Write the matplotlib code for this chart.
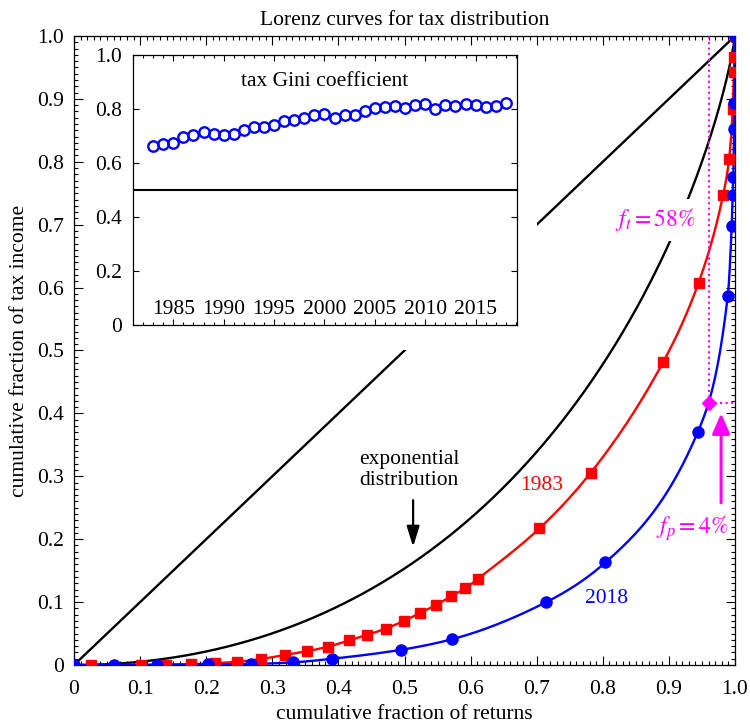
import numpy as np
import matplotlib
matplotlib.use('Agg')
import matplotlib.pyplot as plt
from matplotlib.patches import Rectangle
from matplotlib.ticker import MultipleLocator, FuncFormatter

plt.rcParams['font.family'] = ['Liberation Serif', 'DejaVu Serif']
plt.rcParams['mathtext.fontset'] = 'stix'
plt.rcParams['font.size'] = 15.5

FS = 15.5

# ---------------- data ----------------
returns_1983 = [0.025, 0.101, 0.139, 0.177, 0.213, 0.247, 0.283, 0.319, 0.353, 0.384,
                0.416, 0.444, 0.472, 0.499, 0.524, 0.547, 0.570, 0.592, 0.611, 0.704,
                0.782, 0.891, 0.945, 0.982, 0.991, 0.9965, 0.9983, 0.9990, 1.0]
tax_1983 = [0.0, 0.0, 0.0005, 0.001, 0.003, 0.005, 0.0095, 0.016, 0.022, 0.029,
            0.039, 0.048, 0.058, 0.070, 0.083, 0.095, 0.109, 0.122, 0.137, 0.217,
            0.306, 0.481, 0.608, 0.747, 0.804, 0.884, 0.942, 0.966, 1.0]

returns_2018 = [0.0, 0.061, 0.126, 0.202, 0.268, 0.332, 0.391, 0.494, 0.572, 0.714,
                0.804, 0.944, 0.989, 0.995, 0.9965, 0.9974, 0.9985, 0.9989, 1.0]
tax_2018 = [0.0, 0.0, 0.0005, 0.001, 0.0016, 0.0042, 0.010, 0.024, 0.041, 0.0997,
            0.163, 0.371, 0.586, 0.698, 0.747, 0.776, 0.852, 0.894, 1.0]

gini_years = list(range(1983, 2019))
gini_values = [0.664, 0.669, 0.674, 0.695, 0.702, 0.715, 0.706, 0.705, 0.707, 0.723,
               0.732, 0.732, 0.741, 0.754, 0.758, 0.768, 0.777, 0.781, 0.768, 0.778,
               0.778, 0.793, 0.805, 0.809, 0.811, 0.805, 0.814, 0.817, 0.801, 0.814,
               0.811, 0.819, 0.815, 0.807, 0.811, 0.821]

f_p_point = 0.96      # fraction of returns at the boundary
f_t_point = 0.416     # cumulative tax income at the boundary

main_ticks = [0, 0.1, 0.2, 0.3, 0.4, 0.5, 0.6, 0.7, 0.8, 0.9, 1.0]
inset_yticks = [0, 0.2, 0.4, 0.6, 0.8, 1.0]
inset_xticks = [1985, 1990, 1995, 2000, 2005, 2010, 2015]


def smooth_line(x, y):
    """Monotone cubic Hermite curve through the given points (for drawing only)."""
    x = np.asarray(x, float)
    y = np.asarray(y, float)
    h = np.diff(x)
    d = np.diff(y) / h
    m = np.zeros_like(x)
    m[0], m[-1] = d[0], d[-1]
    for k in range(1, len(x) - 1):
        if d[k - 1] * d[k] <= 0:
            m[k] = 0.0
        else:
            w1 = 2 * h[k] + h[k - 1]
            w2 = h[k] + 2 * h[k - 1]
            m[k] = (w1 + w2) / (w1 / d[k - 1] + w2 / d[k])
    xs = []
    ys = []
    for k in range(len(x) - 1):
        t = np.linspace(0, 1, 60)
        h00 = 2 * t**3 - 3 * t**2 + 1
        h10 = t**3 - 2 * t**2 + t
        h01 = -2 * t**3 + 3 * t**2
        h11 = t**3 - t**2
        xs.append(x[k] + t * h[k])
        ys.append(h00 * y[k] + h10 * h[k] * m[k] + h01 * y[k + 1] + h11 * h[k] * m[k + 1])
    return np.concatenate(xs), np.concatenate(ys)


# ---------------- figure ----------------
fig = plt.figure(figsize=(7.5, 7.24), dpi=100)
ax = fig.add_axes([0.0987, 0.0815, 0.8813, 0.8688])
ax.set_xlim(0, 1)
ax.set_ylim(0, 1)

# equality line
ax.plot([0, 1], [0, 1], color='black', lw=1.7, zorder=2)

# exponential distribution Lorenz curve
p = np.concatenate([np.linspace(0, 0.99, 600), 1 - np.logspace(-2, -9, 300)])
L = p + (1 - p) * np.log1p(-p)
p = np.append(p, 1.0)
L = np.append(L, 1.0)
ax.plot(p, L, color='black', lw=1.7, zorder=2)

# data curves
xr, yr = smooth_line(returns_1983, tax_1983)
ax.plot(xr, yr, color='#ff0000', lw=1.7, zorder=3)
ax.plot(returns_1983, tax_1983, 's', color='#ff0000', ms=6.8, zorder=4)

xb, yb = smooth_line(returns_2018, tax_2018)
ax.plot(xb, yb, color='#0000ff', lw=1.7, zorder=3)
ax.plot(returns_2018, tax_2018, 'o', color='#0000ff', ms=8, zorder=5)

# white background around inset
ax.add_patch(Rectangle((0.017, 0.50), 0.683, 0.48, facecolor='white',
                       edgecolor='none', zorder=2.2))

# f_p / f_t markers
ax.plot([f_p_point, f_p_point], [f_t_point, 1.0], ':', color='#ff00ff', lw=1.5, zorder=3.5)
ax.plot([f_p_point, 1.0], [f_t_point, f_t_point], ':', color='#ff00ff', lw=1.5, zorder=3.5)
ax.plot(f_p_point, f_t_point, 'D', color='#ff00ff', ms=7, zorder=6)

ax.annotate('', xy=(0.979, 0.400), xytext=(0.979, 0.258),
            arrowprops=dict(arrowstyle='-|>,head_length=0.8,head_width=0.35',
                            color='#ff00ff', lw=2.2, shrinkA=0, shrinkB=0))
ax.annotate('', xy=(0.513, 0.188), xytext=(0.513, 0.262),
            arrowprops=dict(arrowstyle='-|>,head_length=0.8,head_width=0.25',
                            color='black', lw=1.6, shrinkA=0, shrinkB=0))

ax.text(0.507, 0.31, 'exponential\ndistribution', ha='center', va='center',
        fontsize=FS, linespacing=1.1)
ax.text(0.708, 0.286, '1983', color='#ff0000', ha='center', va='center', fontsize=FS)
ax.text(0.806, 0.106, '2018', color='#0000ff', ha='center', va='center', fontsize=FS)
ax.text(0.879, 0.7075, r'$f_t = 58\%$', color='#ff00ff', ha='center', va='center',
        fontsize=17, zorder=3.2,
        bbox=dict(boxstyle='square,pad=0.3', facecolor='white', edgecolor='none'))
ax.text(0.935, 0.218, r'$f_p = 4\%$', color='#ff00ff', ha='center', va='center',
        fontsize=17, zorder=3.2)

fmt = FuncFormatter(lambda v, _: '0' if abs(v) < 1e-9 else f'{v:.1f}')
ax.set_xticks(main_ticks)
ax.set_yticks(main_ticks)
ax.xaxis.set_major_formatter(fmt)
ax.yaxis.set_major_formatter(fmt)
ax.xaxis.set_minor_locator(MultipleLocator(0.01))
ax.yaxis.set_minor_locator(MultipleLocator(0.01))
ax.tick_params(which='both', direction='in', top=True, right=True, width=0.8, labelsize=FS)
ax.tick_params(which='major', length=6.5, pad=7)
ax.tick_params(axis='x', which='major', pad=11)
ax.tick_params(which='minor', length=3)
for s in ax.spines.values():
    s.set_linewidth(0.9)

ax.set_title('Lorenz curves for tax distribution', fontsize=FS, pad=8)
ax.set_xlabel('cumulative fraction of returns', fontsize=FS, labelpad=4)
ax.set_ylabel('cumulative fraction of tax income', fontsize=FS, labelpad=6)

# ---------------- inset ----------------
ax_in = fig.add_axes([0.1773, 0.5511, 0.512, 0.373])
ax_in.set_facecolor('white')
ax_in.plot(gini_years, gini_values, 'o', mfc='none', mec='#0000ff', ms=7.5, mew=1.7)
ax_in.axhline(0.5, color='black', lw=1.5)
ax_in.set_xlim(1981, 2019.1)
ax_in.set_ylim(0, 1)
ax_in.set_xticks(inset_xticks)
ax_in.set_xticklabels([str(v) for v in inset_xticks])
ax_in.xaxis.set_minor_locator(MultipleLocator(1))
ax_in.set_yticks(inset_yticks)
ax_in.yaxis.set_major_formatter(fmt)
ax_in.tick_params(which='both', direction='in', top=True, right=True, width=0.8, labelsize=FS)
ax_in.tick_params(axis='x', which='major', length=4, pad=-18)
ax_in.tick_params(axis='x', which='minor', length=2)
ax_in.tick_params(axis='y', which='major', length=4, pad=8)
for s in ax_in.spines.values():
    s.set_linewidth(0.9)
ax_in.text(2000, 0.9, 'tax Gini coefficient', ha='center', va='center', fontsize=FS)

fig.savefig('out.png', dpi=100)
